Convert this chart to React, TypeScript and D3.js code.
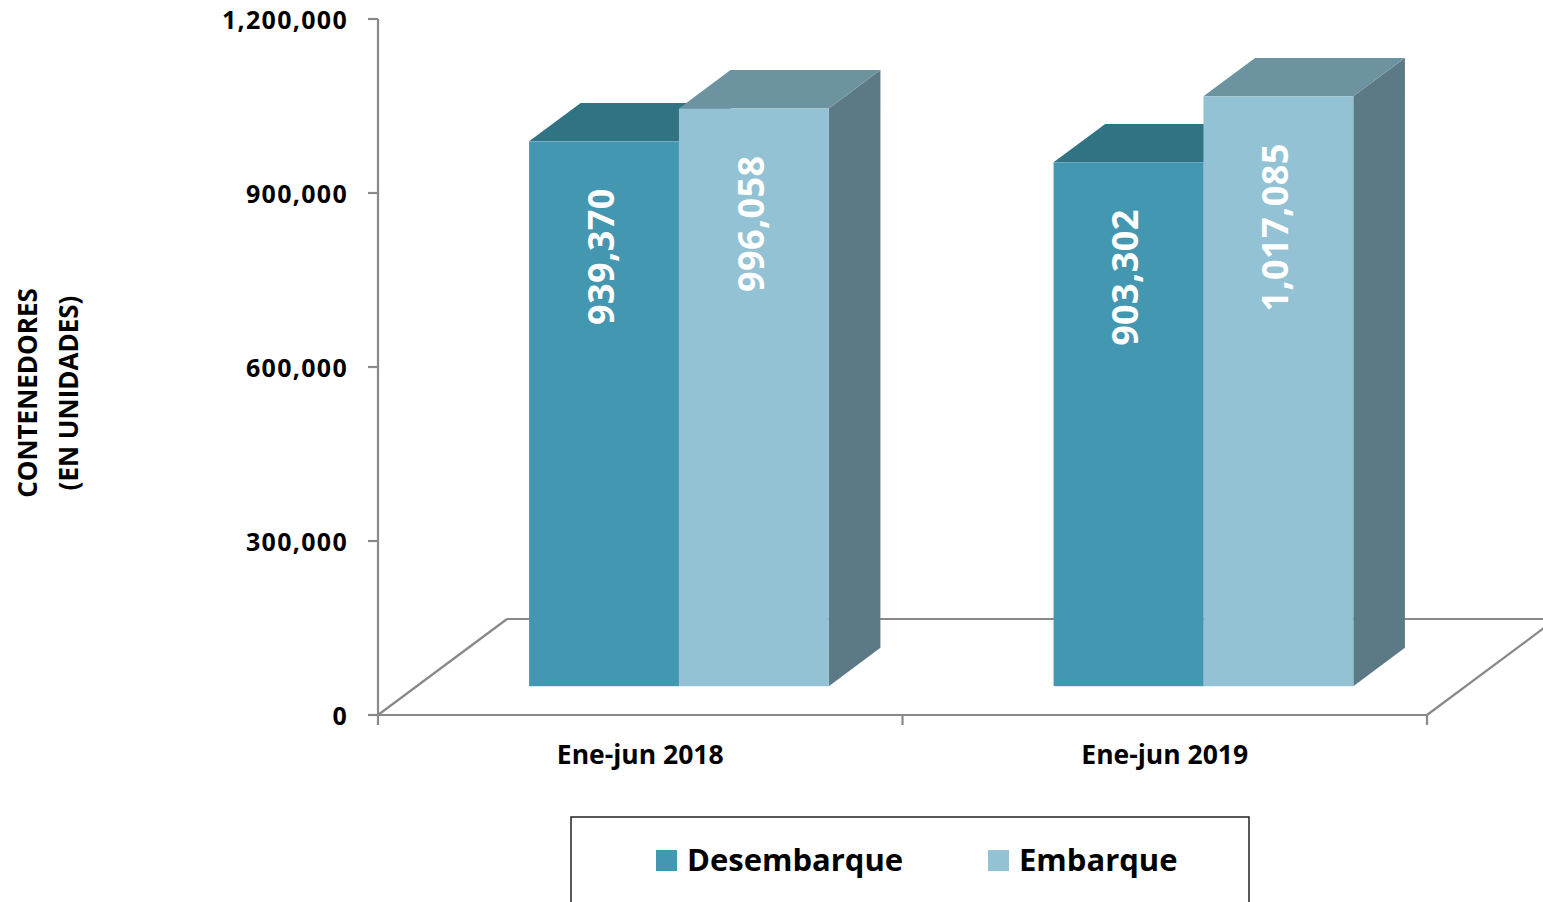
import React from "react";
import * as d3 from "d3";

const categories = ["Ene-jun 2018", "Ene-jun 2019"];
const seriesNames = ["Desembarque", "Embarque"];
const desembarque = [939370, 903302];
const embarque = [996058, 1017085];
const yTicks = [0, 300000, 600000, 900000, 1200000];
const yTitle = ["CONTENEDORES", "(EN UNIDADES)"];

const FONT = "'Open Sans', 'Liberation Sans', sans-serif";
const COLORS = [
  { front: "#4397B0", top: "#307383", side: "#2E6A79" },
  { front: "#93C2D4", top: "#6D93A0", side: "#5B7A85" },
];
const AXIS = "#898989";

export default function App() {
  const W = 1543, H = 902;
  const left = 378, right = 1427, bottom = 715, top = 19;
  const depth = { dx: 129, dy: -96 };
  const f0 = 0.3, f1 = 0.7;

  const y = d3.scaleLinear().domain([0, 1200000]).range([bottom, top]);
  const x = d3.scaleBand<string>().domain(categories).range([left, right]).padding(0);
  const bw = x.bandwidth() / (seriesNames.length + 1.5);
  const inner = d3.scaleBand<string>().domain(seriesNames).range([0, bw * seriesNames.length]);

  const series = [desembarque, embarque];
  const fx = depth.dx * f0, fy = depth.dy * f0;
  const ddx = depth.dx * (f1 - f0), ddy = depth.dy * (f1 - f0);

  const bars: React.ReactNode[] = [];
  const labels: React.ReactNode[] = [];
  categories.forEach((cat, ci) => {
    const c = (x(cat) as number) + x.bandwidth() / 2;
    const start = c - bw;
    seriesNames.forEach((s, si) => {
      const v = series[si][ci];
      const x0 = start + (inner(s) as number) + fx;
      const x1 = x0 + bw;
      const yb = y(0) + fy;
      const yt = y(v) + fy;
      const col = COLORS[si];
      bars.push(
        <g key={`${ci}-${si}`}>
          <polygon
            points={`${x1},${yb} ${x1 + ddx},${yb + ddy} ${x1 + ddx},${yt + ddy} ${x1},${yt}`}
            fill={col.side}
          />
          <polygon
            points={`${x0},${yt} ${x1},${yt} ${x1 + ddx},${yt + ddy} ${x0 + ddx},${yt + ddy}`}
            fill={col.top}
          />
          <rect x={x0} y={yt} width={bw} height={yb - yt} fill={col.front} />
        </g>
      );
      const lx = (x0 + x1) / 2 - 3;
      const ly = yt + 47;
      labels.push(
        <text
          key={`l-${ci}-${si}`}
          transform={`translate(${lx},${ly}) rotate(-90)`}
          textAnchor="end"
          dy="0.36em"
          fontFamily={FONT}
          fontWeight={700}
          fontSize={36}
          letterSpacing={0.4}
          fill="#FFFFFF"
        >
          {d3.format(",")(v)}
        </text>
      );
    });
  });

  const fmt = d3.format(",");

  return (
    <div style={{ position: "absolute", left: 0, top: 0 }}>
      <svg width={W} height={H} style={{ display: "block", background: "#fff" }}>
        <g stroke={AXIS} strokeWidth={2.2} fill="none">
          <line x1={left + depth.dx} y1={bottom + depth.dy} x2={right + depth.dx} y2={bottom + depth.dy} />
          <line x1={left} y1={bottom} x2={left + depth.dx} y2={bottom + depth.dy} />
          <line x1={right} y1={bottom} x2={right + depth.dx} y2={bottom + depth.dy} />
          <line x1={left} y1={bottom} x2={right} y2={bottom} />
          <line x1={left} y1={top} x2={left} y2={bottom} />
          {yTicks.map((t) => (
            <line key={t} x1={left - 10} y1={y(t)} x2={left} y2={y(t)} />
          ))}
          {[left, ...categories.map((c) => (x(c) as number) + x.bandwidth())].map((px, i) => (
            <line key={i} x1={px} y1={bottom} x2={px} y2={bottom + 10} />
          ))}
        </g>
        {bars}
        {labels}
        {yTicks.map((t) => (
          <text
            key={t}
            x={348}
            y={y(t) + 9.5}
            textAnchor="end"
            fontFamily={FONT}
            fontWeight={700}
            fontSize={25}
            letterSpacing={1.3}
            fill="#000"
          >
            {fmt(t)}
          </text>
        ))}
        {categories.map((c) => (
          <text
            key={c}
            x={(x(c) as number) + x.bandwidth() / 2}
            y={764}
            textAnchor="middle"
            fontFamily={FONT}
            fontWeight={700}
            fontSize={26.5}
            fill="#000"
          >
            {c}
          </text>
        ))}
        {yTitle.map((line, i) => (
          <text
            key={line}
            transform={`translate(${37 + i * 41},393) rotate(-90)`}
            textAnchor="middle"
            fontFamily={FONT}
            fontWeight={700}
            fontSize={26}
            fill="#000"
          >
            {line}
          </text>
        ))}
        <rect x={571} y={817} width={678} height={100} fill="#fff" stroke="#222" strokeWidth={1.5} />
        {seriesNames.map((s, i) => {
          const lx = [656, 988][i];
          return (
            <g key={s}>
              <rect x={lx} y={850} width={21} height={21} fill={COLORS[i].front} />
              <text x={lx + 31} y={871} fontFamily={FONT} fontWeight={700} fontSize={31} fill="#000">
                {s}
              </text>
            </g>
          );
        })}
      </svg>
    </div>
  );
}
